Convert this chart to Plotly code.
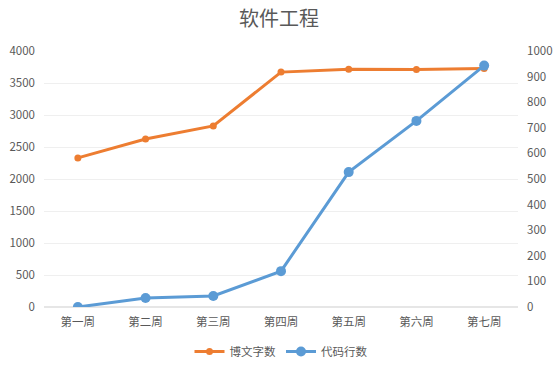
import plotly.graph_objects as go

weeks = ["第一周", "第二周", "第三周", "第四周", "第五周", "第六周", "第七周"]
blog_words = [2330, 2625, 2830, 3670, 3715, 3712, 3725]
code_lines = [0, 35, 43, 140, 527, 727, 943]

FONT = "Noto Sans CJK SC, Microsoft YaHei, sans-serif"
GRAY = "#595959"

fig = go.Figure()
fig.add_trace(go.Scatter(
    x=weeks, y=blog_words, name="博文字数", mode="lines+markers",
    line=dict(color="#ED7D31", width=3),
    marker=dict(color="#ED7D31", size=7),
))
fig.add_trace(go.Scatter(
    x=weeks, y=code_lines, name="代码行数", mode="lines+markers",
    line=dict(color="#5B9BD5", width=3),
    marker=dict(color="#5B9BD5", size=10),
    yaxis="y2",
))

fig.update_layout(
    width=558, height=372,
    margin=dict(l=44, r=40, t=51, b=65, autoexpand=False),
    paper_bgcolor="white", plot_bgcolor="white",
    font=dict(family=FONT, size=11.5, color=GRAY),
    title=dict(text="软件工程", x=0.5, xanchor="center", yref="container", y=0.948, yanchor="middle",
               font=dict(family=FONT, size=20, color=GRAY)),
    xaxis=dict(type="category", range=[-0.5, 6.5], showgrid=False, showline=False,
               ticks="", ticklabelstandoff=6, tickfont=dict(size=11.5, color=GRAY)),
    yaxis=dict(range=[0, 4000], dtick=500, showgrid=True, gridcolor="#EFEFEF",
               zeroline=True, zerolinecolor="#E6E6E6", showline=False, ticks="",
               ticklabelstandoff=8, tickfont=dict(size=11.5, color=GRAY)),
    yaxis2=dict(range=[0, 1000], dtick=100, overlaying="y", side="right",
                showgrid=False, zeroline=False, showline=False, ticks="",
                ticklabelstandoff=8, tickfont=dict(size=11.5, color=GRAY)),
    legend=dict(orientation="h", x=0.5, xanchor="center", yref="container", y=0.055, yanchor="middle",
                font=dict(size=11.5, color=GRAY), itemwidth=30, tracegroupgap=0),
    showlegend=True,
)

fig.write_html("out.html", config={"displayModeBar": False},
               post_script="document.body.style.margin='0px';document.body.style.overflow='hidden';")
